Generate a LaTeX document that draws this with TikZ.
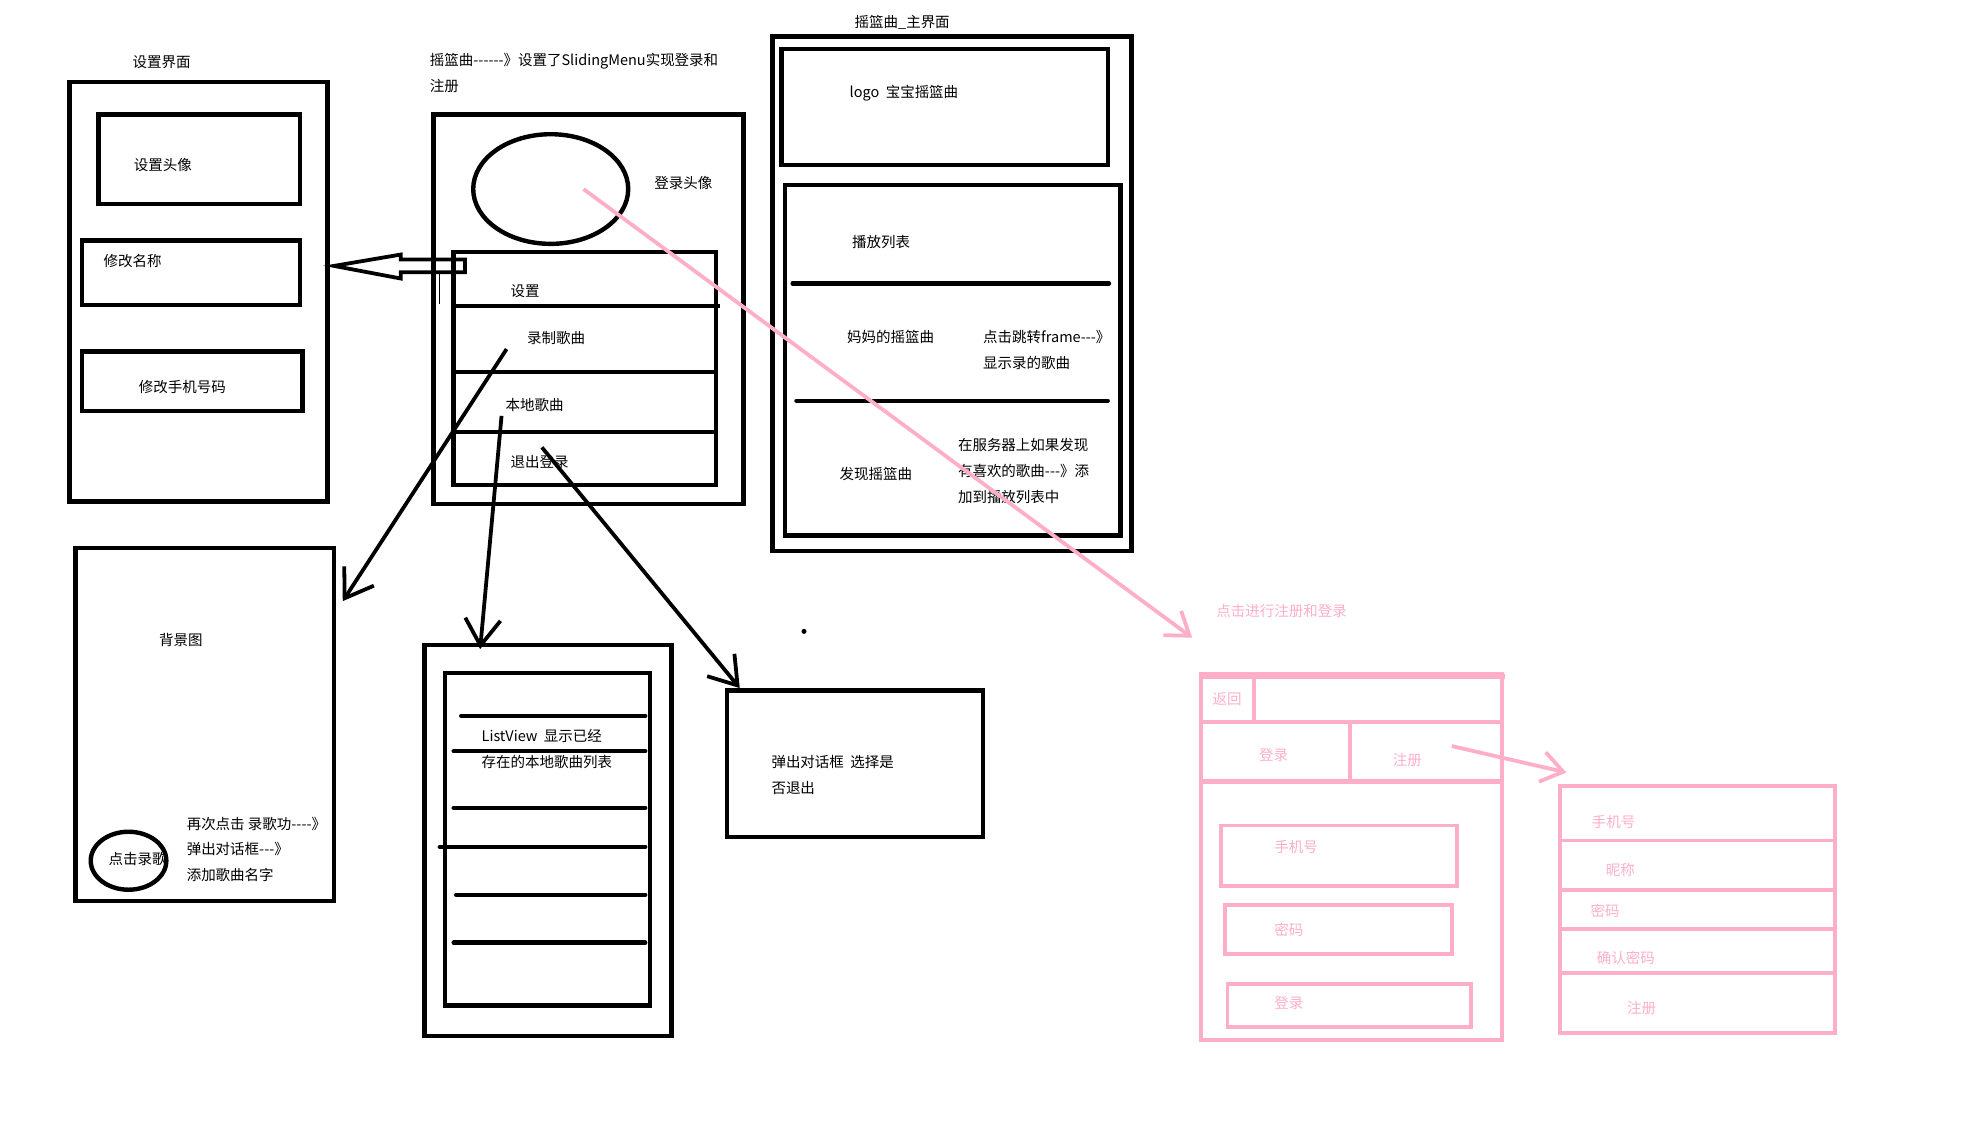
\documentclass[tikz,border=0pt]{standalone}
\usepackage{fontspec}
\newfontfamily\cjk{Noto Sans CJK SC}
\usetikzlibrary{arrows.meta,shapes.geometric}
\definecolor{paintpink}{RGB}{255,174,201}

\begin{document}
\begin{tikzpicture}[x=1pt, y=-1pt, >={Straight Barb[length=21pt, width=28pt]},
    box/.style={draw, line width=3.5pt, inner sep=0pt},
    pbox/.style={draw=paintpink, line width=3pt, inner sep=0pt},
    lbl/.style={anchor=west, inner sep=0pt, align=left, font=\cjk\fontsize{11.5}{20.5}\selectfont},
    plbl/.style={lbl, text=paintpink},
    pline/.style={draw=paintpink, line width=3pt, -{Straight Barb[length=17pt, width=24pt]}}]
    \useasboundingbox (0,0) rectangle (1568,907.8);

    % Nodes for the settings screen
    \node[lbl] (setT) at (105,49) {设置界面};
    \node[box, minimum width=205pt, minimum height=333pt] (set) at (157.5,231.5) {};
    \node[box, minimum width=160pt, minimum height=71pt] (setA) at (158,126.5) {};
    \node[lbl] (setAT) at (106,131) {设置头像};
    \node[box, minimum width=173pt, minimum height=51pt] (setN) at (151.5,216.5) {};
    \node[lbl] (setNT) at (82,207) {修改名称};
    \node[box, minimum width=175pt, minimum height=47pt] (setP) at (152.5,302.5) {};
    \node[lbl] (setPT) at (110,307) {修改手机号码};

    % Nodes for the sliding menu
    \node[lbl] (menuT) at (341,58) {摇篮曲------》设置了SlidingMenu实现登录和\\注册};
    \node[box, minimum width=246pt, minimum height=309pt] (menu) at (467,245.5) {};
    \node[box, ellipse, minimum width=123pt, minimum height=87pt] (av) at (437,150) {};
    \node[lbl] (avT) at (519,145) {登录头像};
    \node[box, minimum width=208pt, minimum height=185pt] (list) at (464,292.5) {};
    \draw[line width=3.5pt] (360,243) -- (571,243);
    \draw[line width=3.5pt] (360,295) -- (570,295);
    \draw[line width=3.5pt] (360,343) -- (570,343);
    \node[lbl] (opt1) at (405,231) {设置};
    \node[lbl] (opt2) at (418,268) {录制歌曲};
    \node[lbl] (opt3) at (401,321) {本地歌曲};
    \node[lbl] (opt4) at (405,367) {退出登录};

    % Nodes for the main screen
    \node[lbl] (mainT) at (678,18) {摇篮曲\_主界面};
    \node[box, minimum width=285pt, minimum height=408pt] (main) at (755.5,233) {};
    \node[box, minimum width=259pt, minimum height=92pt] (logo) at (749.5,85) {};
    \node[lbl] (logoT) at (674,74) {logo\ \ 宝宝摇篮曲};
    \node[box, minimum width=266pt, minimum height=278pt] (play) at (756,286) {};
    \draw[line width=3.5pt, line cap=round] (629,225) -- (880,225);
    \draw[line width=3.5pt, line cap=round] (632,318) -- (879,318);
    \node[lbl] (playT) at (676,192) {播放列表};
    \node[lbl] (momT) at (672,267) {妈妈的摇篮曲};
    \node[lbl] (momD) at (780,278) {点击跳转frame---》\\显示录的歌曲};
    \node[lbl] (findT) at (666,376) {发现摇篮曲};
    \node[lbl] (findD) at (760,374) {在服务器上如果发现\\有喜欢的歌曲---》添\\加到播放列表中};

    % Nodes for the record, local list and exit screens
    \node[box, minimum width=205pt, minimum height=280pt] (bg) at (162.5,575) {};
    \node[lbl] (bgT) at (126,508) {背景图};
    \node[lbl] (recT) at (86,682) {点击录歌};
    \node[draw, ellipse, line width=3.5pt, minimum width=60pt, minimum height=46pt] (rec) at (102,683) {};
    \node[lbl] (recD) at (148,674) {再次点击 录歌功----》\\弹出对话框---》\\添加歌曲名字};
    \node[box, minimum width=196pt, minimum height=310pt] (lv) at (435,667) {};
    \node[box, minimum width=163pt, minimum height=264pt] (lvIn) at (434.5,666) {};
    \foreach \y/\a in {568/366, 596/360, 641/360, 672/349, 710/362, 748/360}
        \draw[line width=3.5pt, line cap=round] (\a,\y) -- (512,\y);
    \node[lbl] (lvT) at (382,594.5) {ListView\ \ 显示已经\\存在的本地歌曲列表};
    \node[box, minimum width=203pt, minimum height=116pt] (exit) at (678.5,606) {};
    \node[lbl] (exitT) at (612,615) {弹出对话框\ \ 选择是\\否退出};
    \fill (638,501) circle (2pt);

    % Nodes for the login and register screens
    \node[plbl] (goT) at (965,485) {点击进行注册和登录};
    \node[pbox, minimum width=239pt, minimum height=290pt] (login) at (1072.5,680) {};
    \draw[draw=paintpink, line width=4pt] (953,537) -- (1194,537);
    \draw[draw=paintpink, line width=3.5pt] (953,573) -- (1192,573);
    \draw[draw=paintpink, line width=3pt] (995,535) -- (995,573);
    \draw[draw=paintpink, line width=3.5pt] (953,620) -- (1192,620);
    \draw[draw=paintpink, line width=3pt] (1071,573) -- (1071,622);
    \node[plbl] (backT) at (962,555) {返回};
    \node[plbl] (tabL) at (999,599) {登录};
    \node[plbl] (tabR) at (1105,603) {注册};
    \node[pbox, minimum width=187pt, minimum height=48pt] (phone) at (1062.5,679) {};
    \node[plbl] (phoneT) at (1011,672) {手机号};
    \node[pbox, minimum width=180pt, minimum height=39pt] (pwd) at (1062,737.5) {};
    \node[plbl] (pwdT) at (1011,738) {密码};
    \node[pbox, minimum width=193pt, minimum height=34pt] (btn) at (1070.5,798) {};
    \node[plbl] (btnT) at (1011,796) {登录};
    \node[pbox, minimum width=218pt, minimum height=196pt] (reg) at (1347,722) {};
    \foreach \y in {667, 706, 737, 772}
        \draw[draw=paintpink, line width=3pt] (1238,\y) -- (1456,\y);
    \node[plbl] (regA) at (1263,652) {手机号};
    \node[plbl] (regB) at (1274,690) {昵称};
    \node[plbl] (regC) at (1262,723) {密码};
    \node[plbl] (regD) at (1267,760) {确认密码};
    \node[plbl] (regE) at (1291,800) {注册};

    % Edges between the screens
    \draw[line width=3pt, line join=miter] (265,211) -- (318,202) -- (318,206) -- (369,206)
        -- (369,216) -- (318,216) -- (318,221) -- cycle;
    \draw[line width=0.8pt] (349,217) -- (349,241);
    \coordinate (recFrom) at (402,277);
    \coordinate (recTo) at (272,477);
    \coordinate (locFrom) at (398,330);
    \coordinate (locTo) at (381,515);
    \coordinate (exFrom) at (430,355);
    \coordinate (exTo) at (587,546);
    \draw[->, line width=3pt] (recFrom) -- (recTo);
    \draw[->, line width=3pt] (locFrom) -- (locTo);
    \draw[->, line width=3pt] (exFrom) -- (exTo);
    \coordinate (avFrom) at (463,150);
    \coordinate (avTo) at (946,506);
    \coordinate (tabFrom) at (1152,592);
    \coordinate (tabTo) at (1243,613);
    \draw[pline] (avFrom) -- (avTo);
    \draw[pline] (tabFrom) -- (tabTo);
\end{tikzpicture}
\end{document}
